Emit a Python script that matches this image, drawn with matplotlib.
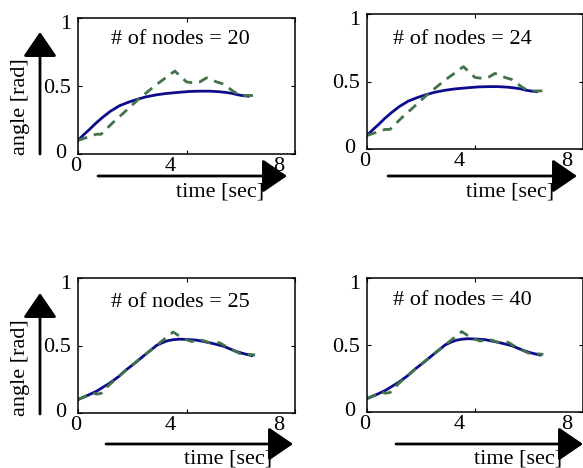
import numpy as np
import matplotlib.pyplot as plt
from matplotlib.transforms import ScaledTranslation

plt.rcParams['font.family'] = ['Liberation Serif', 'DejaVu Serif']
plt.rcParams['font.size'] = 16

# estimated angle trajectories (rad) vs time (sec)
t_ref_coarse = [0, 0.2, 0.42, 0.65, 0.91, 1.2, 1.53, 1.85, 2.15, 2.5, 2.89, 3.25,
                3.63, 4.12, 4.5, 4.86, 5.2, 5.48, 5.7, 5.85, 6.05, 6.28]
ang_ref_coarse = [0.10, 0.14, 0.18, 0.225, 0.27, 0.315, 0.355, 0.38, 0.40, 0.42,
                  0.435, 0.445, 0.452, 0.46, 0.462, 0.462, 0.458, 0.452, 0.445,
                  0.437, 0.43, 0.425]
t_est_coarse = [0, 0.67, 0.85, 1.28, 1.78, 2.27, 2.89, 3.57, 4.0, 4.19, 4.49, 4.74,
                5.11, 5.36, 5.73, 5.98, 6.53]
ang_est_coarse = [0.10, 0.145, 0.145, 0.23, 0.32, 0.41, 0.51, 0.61, 0.53, 0.525, 0.53,
                  0.56, 0.53, 0.515, 0.46, 0.43, 0.43]

t_ref_fine = [0, 0.3, 0.67, 1.16, 1.5, 1.78, 2.1, 2.40, 2.65, 2.89, 3.1, 3.3, 3.5,
              3.75, 4.0, 4.37, 4.86, 5.36, 5.6, 5.85, 6.1, 6.41]
ang_ref_fine = [0.10, 0.125, 0.16, 0.22, 0.27, 0.32, 0.37, 0.42, 0.46, 0.50, 0.52,
                0.535, 0.543, 0.547, 0.545, 0.54, 0.52, 0.495, 0.475, 0.455, 0.44,
                0.425]
t_est_fine = [0, 0.55, 0.67, 0.85, 1.16, 1.78, 2.40, 2.89, 3.51, 3.88, 4.19, 4.56,
              4.86, 5.23, 5.6, 5.98, 6.53]
ang_est_fine = [0.10, 0.15, 0.14, 0.145, 0.21, 0.32, 0.42, 0.50, 0.60, 0.55, 0.53,
                0.54, 0.52, 0.52, 0.475, 0.44, 0.43]

node_counts = [20, 24, 25, 40]
x_ticks = [0, 4, 8]
y_ticks = [0, 0.5, 1]
y_tick_labels = ['0', '0.5', '1']

W, H = 583, 468
fig = plt.figure(figsize=(W / 100, H / 100), dpi=100)

# axes boxes in image pixels: left, top, right, bottom
boxes = [(78, 18, 295, 154), (367, 14, 583, 149),
         (78, 278, 295, 413), (367, 278, 583, 412)]
text_pos = [(3.76, 0.84), (3.52, 0.81), (3.76, 0.82), (3.52, 0.83)]
curves = [(t_ref_coarse, ang_ref_coarse, t_est_coarse, ang_est_coarse)] * 2 + \
         [(t_ref_fine, ang_ref_fine, t_est_fine, ang_est_fine)] * 2


def shift(lab, dx, dy):
    lab.set_transform(lab.get_transform() +
                      ScaledTranslation(dx / 100, dy / 100, fig.dpi_scale_trans))


for i, (l, t, r, b) in enumerate(boxes):
    ax = fig.add_axes([l / W, 1 - b / H, (r - l) / W, (b - t) / H])
    tr, ar, te, ae = curves[i]
    ax.plot(tr, ar, color='#0c0c8c', lw=2.0)
    ax.plot(te, ae, color='#41724a', lw=2.0, dashes=(3.5, 2.5))
    ax.set_xlim(0, 8)
    ax.set_ylim(0, 1)
    ax.set_xticks(x_ticks)
    ax.set_yticks(y_ticks)
    ax.set_yticklabels(y_tick_labels)
    ax.tick_params(direction='in', length=3, width=0.8, top=True, right=True,
                   labelsize=16)
    ax.tick_params(axis='x', pad=2)
    ax.tick_params(axis='y', pad=5)
    for s in ax.spines.values():
        s.set_linewidth(1.1)
    # tick labels sit a little off their ticks in the original
    for lab, dx in zip(ax.get_xticklabels(), [-2, -16, -16]):
        shift(lab, dx, 0)
    ylabs = ax.get_yticklabels()
    shift(ylabs[0], -5, 3)
    shift(ylabs[2], 0, -4)
    ax.text(*text_pos[i], f'# of nodes = {node_counts[i]}', ha='center',
            va='center', fontsize=16)


def arrow(x0, y0, x1, y1):
    fig.add_artist(plt.Annotation(
        '', xy=(x1 / W, 1 - y1 / H), xytext=(x0 / W, 1 - y0 / H),
        xycoords='figure fraction', textcoords='figure fraction',
        arrowprops=dict(arrowstyle='-|>,head_length=0.95,head_width=0.65',
                        lw=2, color='k', shrinkA=0, shrinkB=0)))


# axis arrows and labels (image pixels)
arrow(40, 154, 40, 32)
arrow(40, 414, 40, 293)
arrow(98, 176, 287, 176)
arrow(388, 176, 577, 176)
arrow(106, 444, 293, 444)
arrow(396, 444, 583, 444)

for y in (107, 368):
    fig.text(21 / W, 1 - y / H, 'angle [rad]', rotation=90, ha='center',
             va='center', fontsize=16)
for x, y in ((220, 192), (510, 192), (228, 459), (518, 459)):
    fig.text(x / W, 1 - y / H, 'time [sec]', ha='center', va='center',
             fontsize=16)

fig.savefig('out.png', dpi=100)
